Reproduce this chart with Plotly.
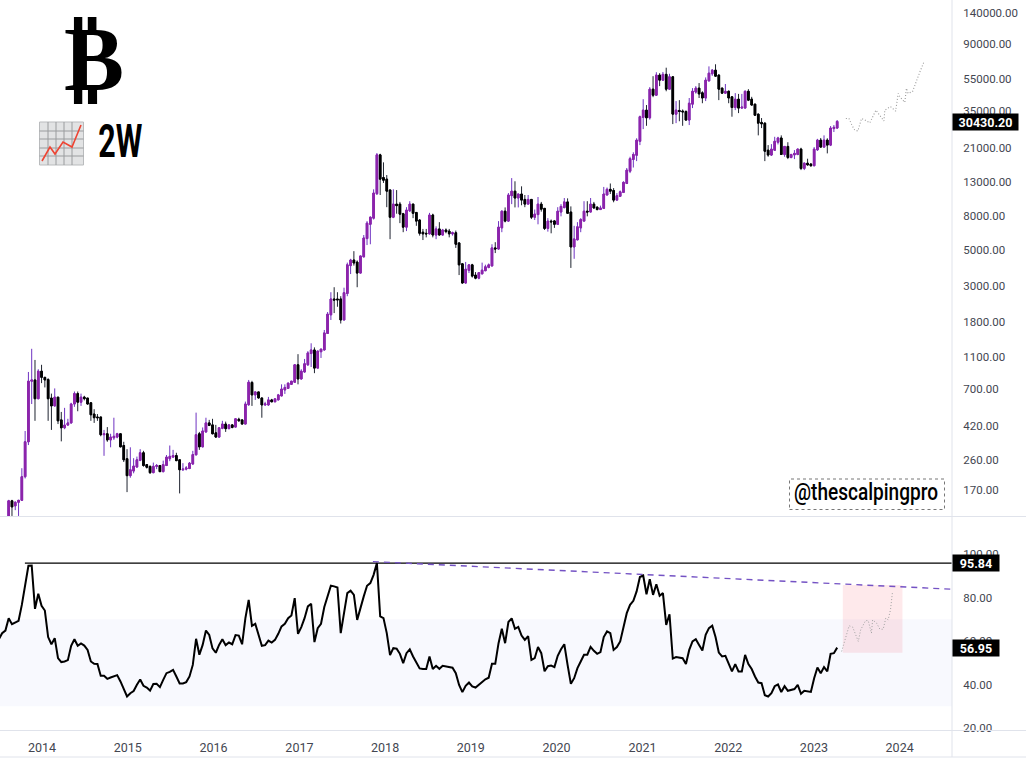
import pandas as pd
import plotly.graph_objects as go

candle_open = [
115,146,136,143,147,205,335,786,800,614,
905,830,805,620,555,628,456,408,424,437,
570,660,585,628,620,580,495,475,475,370,
375,344,354,358,375,318,264,208,222,235,
258,287,243,237,217,237,240,220,240,264,
270,276,260,226,228,230,245,279,375,312,
385,437,425,380,358,405,430,403,425,412,
460,456,430,565,772,648,676,621,563,563,
604,588,604,639,695,710,752,775,990,811,
895,990,1160,1220,945,1190,1220,1540,2000,2500,
2500,2500,1860,2700,4000,4325,4200,3600,4520,5850,
7150,7800,11000,19000,13800,13500,11600,7900,9500,9500,
8300,6870,8650,9500,8450,7590,6400,6300,6250,8150,
6150,6700,6150,6600,6500,6250,6350,5500,4100,3130,
3740,4040,3500,3350,3560,3720,3900,3980,5130,5050,
6800,8600,7480,10700,11400,10350,10950,10150,9500,10150,
7900,8200,9500,8950,6750,7480,7500,7150,8500,9050,
9800,8500,5200,5750,6800,7480,8600,8500,9500,9100,
8800,8950,10800,11700,11500,10050,10600,11200,12700,15100,
17800,18900,23000,32200,35663,32000,47900,44000,58400,54383,
59000,47900,57000,33700,35500,35200,35000,31000,38800,46000,
48600,45500,42300,53800,59500,62596,58400,48600,45300,46500,
43000,37000,41600,36700,36700,46500,41600,38800,33700,30000,
29700,20300,18950,20300,22700,24100,19100,21400,18300,19000,
19100,20600,15700,16900,16700,16300,20400,23386,21200,23386,
21800,27500,27700]

candle_high = [
148,148,145,148,231,390,895,1240,1060,930,
990,835,820,660,710,628,510,540,463,580,
680,680,660,640,620,585,530,495,475,396,
412,375,470,380,375,335,302,310,266,272,
302,295,245,240,250,245,240,257,278,318,
299,287,260,248,238,252,295,505,385,410,
470,456,463,425,410,450,445,430,430,465,
470,458,590,800,790,680,676,621,588,630,
613,615,657,752,752,770,790,1000,1150,930,
1075,1200,1340,1265,1210,1240,1616,2080,2750,2950,
2750,2600,2930,4170,4400,4900,4300,4600,6150,7480,
8000,11700,19500,19300,17100,14300,11600,11700,11576,9800,
8400,9100,9900,9550,8500,7700,6700,6700,8400,8300,
6950,7370,6700,6750,6700,6450,6550,5550,4150,4210,
4080,4100,3650,3650,4170,4050,4120,5400,5560,7480,
8700,9070,11100,13700,13100,11000,12200,10800,10800,10200,
8800,10500,9800,9000,7800,7650,7600,9100,9500,10350,
10300,9200,7000,7370,7800,9900,9900,10350,9800,9200,
9300,12100,12000,12700,11900,11100,11500,13100,15800,18500,
19700,24000,33000,41600,38300,49300,57500,60800,60000,61000,
64800,59500,57500,40500,41049,36000,35500,42300,48600,50000,
52200,46500,56500,66000,63500,68000,59000,49000,51500,47000,
43500,45300,44800,44800,47000,47900,43000,39000,34000,31900,
30000,21800,22100,24500,24500,25000,21500,22700,19300,20318,
20800,21000,17100,18000,16900,21200,23800,24100,25000,24000,
28500,28900,31000]

candle_low = [
110,118,128,118,146,200,320,570,450,610,
765,720,450,396,550,430,337,400,420,432,
548,515,555,600,565,450,437,450,362,275,
335,310,344,352,310,252,165,202,215,232,
255,236,230,213,215,228,220,218,238,255,
268,255,162,222,224,228,243,276,299,310,
380,418,372,355,355,400,385,400,405,410,
445,428,428,555,555,604,615,470,555,555,
585,585,600,635,657,705,745,770,752,805,
885,975,960,880,940,1090,1210,1530,1860,2050,
2240,1770,1850,2600,3550,4000,2950,3580,4500,5340,
5400,7650,10800,10800,12800,9100,5800,7800,8300,7270,
6400,6500,8500,7800,7000,6100,5730,5950,6200,5950,
5800,6100,6100,6300,5950,6100,5130,3500,3100,3100,
3600,3380,3300,3300,3540,3700,3850,3950,4770,5000,
6400,7350,7400,9500,9070,9070,9350,9100,9450,7700,
7600,7150,8550,6600,6450,6300,6800,7100,8000,8950,
8300,3870,4400,5700,6400,7450,8000,8450,8900,8700,
8750,8900,10750,10950,9750,10000,10500,11100,12600,14700,
15900,17400,21800,27300,28600,31200,42800,43500,50000,53900,
46500,47500,29300,29700,30500,28600,30800,28900,36700,45000,
42300,39300,40500,53500,57800,57000,41049,44800,45000,39300,
32500,35663,34200,36300,36500,40500,38000,33000,25000,27700,
17400,18500,18700,20100,22000,19000,18500,17900,18100,17900,
18900,15336,15336,16300,16100,16200,20100,21000,21000,19400,
21500,26200,27500]

candle_close = [
146,134,143,147,205,335,786,800,614,905,
830,800,614,555,628,450,408,424,437,570,
660,585,628,615,570,490,470,470,370,375,
344,358,362,375,312,260,208,226,238,260,
287,240,234,217,237,240,220,243,270,273,
276,257,226,228,232,248,280,370,312,390,
437,422,375,358,408,430,403,425,410,463,
450,430,570,775,648,676,621,563,571,604,
588,613,648,704,720,765,786,990,811,905,
1005,1170,1220,945,1200,1235,1550,2020,2500,2460,
2470,1860,2730,4040,4325,4150,3600,4580,5900,7270,
7900,11100,19000,13500,13300,11400,7900,9500,9300,8250,
6870,8737,9500,8350,7480,6300,6250,6250,8150,6150,
6700,6150,6600,6450,6250,6350,5400,4040,3130,3800,
4040,3450,3350,3620,3750,3930,4040,5130,5050,6870,
8600,7480,10800,11400,10350,10950,10050,9500,10150,7900,
8250,9500,8850,6750,7480,7400,7150,8600,9200,9800,
8350,5200,5820,6900,7650,8600,8500,9500,9000,8800,
9000,10950,11700,11400,10050,10700,11300,12900,15336,18000,
19100,23386,32500,35663,32000,47900,44000,58400,54383,59000,
47900,57000,33700,35663,35000,34800,31000,39300,46500,48600,
44800,42300,54383,60000,62596,57500,47900,45300,46500,42300,
37000,41600,36700,37200,46500,41049,38300,33200,29700,29400,
20000,18950,20600,23000,24100,19100,21400,18300,19100,19400,
20600,15700,16900,16500,16300,20600,23386,21200,23386,21800,
27700,28000,30430.2]

rsi_values = [
60.8,63.6,64.8,70.5,67.7,68.5,69.3,76.6,85.8,94.6,
94.7,74.8,81.7,76.2,74.0,61.8,58.5,61.3,52.1,50.3,
50.6,51.2,57.8,60.8,57.8,58.9,57.9,55.9,50.6,49.5,
49.4,44.0,44.0,42.6,43.2,43.7,44.3,41.4,37.9,34.5,
36.0,37.0,39.9,42.3,39.4,38.6,37.2,40.2,40.3,38.8,
42.1,45.2,45.8,46.7,43.7,40.5,40.5,41.1,43.7,49.0,
61.0,53.7,58.2,64.8,62.8,56.6,54.6,58.2,60.8,58.1,
59.3,58.5,62.7,62.5,58.5,70.5,78.9,67.0,67.9,62.8,
57.8,58.1,60.2,59.3,60.5,63.3,66.7,67.9,70.5,71.7,
79.7,63.3,66.4,70.5,75.9,77.1,59.5,65.9,67.9,75.6,
80.5,85.4,85.1,84.6,
63.6,72.0,82.0,83.1,81.2,69.7,75.6,80.5,85.4,86.6,90.4,95.84,
71.3,70.5,63.6,53.5,56.7,56.5,54.1,49.8,
54.4,56.2,52.9,49.8,47.4,47.1,47.1,52.9,47.1,48.6,
47.2,48.6,48.3,48.0,47.7,45.2,39.8,36.5,39.4,40.9,
39.1,38.6,39.8,40.9,42.4,43.1,49.5,49.5,59.0,65.6,
59.0,68.7,70.4,65.6,66.5,62.5,60.5,62.2,51.3,52.1,
57.2,54.4,46.1,48.4,48.7,48.0,53.2,56.2,58.5,49.0,
40.3,42.9,47.5,50.6,53.7,53.7,57.3,55.5,54.1,54.9,
61.8,64.4,63.6,55.9,57.2,59.8,65.9,72.8,76.6,78.5,
82.8,89.4,90.1,81.5,88.4,81.2,86.1,80.8,82.0,67.4,
72.3,51.9,52.6,52.4,
52.1,49.4,55.9,59.8,60.8,58.2,55.6,62.8,65.9,67.0,
61.8,54.7,52.9,53.2,49.5,46.0,49.4,46.0,46.0,53.6,
49.4,47.1,43.7,40.9,40.6,35.1,34.5,36.0,39.2,40.0,
36.5,39.2,37.1,37.5,37.9,39.8,35.7,37.1,36.8,36.6,
42.9,47.8,45.2,48.0,46.0,54.1,54.4,56.95]

forecast_price_dates = ["2023-05-17","2023-05-30","2023-06-13","2023-06-24","2023-07-07","2023-07-23",
    "2023-08-06","2023-08-27","2023-09-22","2023-10-16","2023-10-26","2023-10-30","2023-11-23",
    "2023-12-15","2023-12-26","2024-01-02","2024-01-23","2024-01-30","2024-02-06","2024-02-25",
    "2024-03-06","2024-03-27","2024-04-14"]
forecast_price = [31700,31700,28600,26900,26600,31700,31000,29800,35663,31700,30600,35663,37500,
    35200,45100,43000,39800,48500,45100,46300,51000,61000,70500]

forecast_rsi_dates = ["2023-04-29","2023-05-13","2023-05-31","2023-06-15","2023-06-29","2023-07-09",
    "2023-07-19","2023-08-09","2023-08-20","2023-09-03","2023-09-08","2023-09-25","2023-10-09",
    "2023-10-23","2023-11-03","2023-11-13","2023-11-23","2023-12-01"]
forecast_rsi = [55.2,60.5,67.0,66.4,62.8,59.8,65.1,69.4,69.4,63.6,69.7,68.2,65.4,65.4,70.5,69.7,74.3,82.0]

price_ticks = [140000,90000,55000,35000,21000,13000,8000,5000,3000,1800,1100,700,420,260,170]
rsi_ticks = [100,80,60,40,20]

last_price = 30430.20
last_rsi = 56.95
peak_rsi = 95.84
trend_dates = ["2017-11-10","2024-08-11"]
trend_rsi = [96.5,83.8]
peak_dates = ["2013-10-20","2024-08-11"]

W, H = 1026, 759
PLOT_W, PLOT_H = 952, 730
px = lambda v: v / PLOT_W
py = lambda v: 1 - v / PLOT_H

candle_dates = pd.date_range(end="2023-04-10", periods=len(candle_close), freq="14D")
rsi_dates = pd.date_range(end="2023-04-10", periods=len(rsi_values), freq="14D")
x_range = ["2013-07-06", "2024-08-11"]
body_top = [max(a, b) for a, b in zip(candle_open, candle_close)]
body_bottom = [min(a, b) for a, b in zip(candle_open, candle_close)]

fig = go.Figure()
# wicks in their own colour, bodies drawn over them
fig.add_trace(go.Candlestick(
    x=candle_dates, open=candle_open, high=candle_high, low=candle_low, close=candle_close,
    xaxis="x", yaxis="y", whiskerwidth=0,
    increasing=dict(line=dict(color="#6f33c2", width=1), fillcolor="#8e24aa"),
    decreasing=dict(line=dict(color="#1f2430", width=1), fillcolor="#000000"),
))
fig.add_trace(go.Candlestick(
    x=candle_dates, open=candle_open, high=body_top, low=body_bottom, close=candle_close,
    xaxis="x", yaxis="y", whiskerwidth=0,
    increasing=dict(line=dict(color="#8e24aa", width=1), fillcolor="#8e24aa"),
    decreasing=dict(line=dict(color="#000000", width=1), fillcolor="#000000"),
))
fig.add_trace(go.Scatter(x=forecast_price_dates, y=forecast_price, mode="lines", xaxis="x", yaxis="y",
                         line=dict(color="#9a9a9a", width=1.1, dash="1px,2px")))
fig.add_trace(go.Scatter(x=peak_dates, y=[peak_rsi, peak_rsi], mode="lines", xaxis="x2", yaxis="y2",
                         line=dict(color="#000000", width=1.3)))
fig.add_trace(go.Scatter(x=trend_dates, y=trend_rsi, mode="lines", xaxis="x2", yaxis="y2",
                         line=dict(color="#7452c4", width=1.4, dash="6px,5px")))
fig.add_trace(go.Scatter(x=rsi_dates, y=rsi_values, mode="lines", xaxis="x2", yaxis="y2",
                         line=dict(color="#000000", width=2)))
fig.add_trace(go.Scatter(x=forecast_rsi_dates, y=forecast_rsi, mode="lines", xaxis="x2", yaxis="y2",
                         line=dict(color="#a2a2a2", width=1, dash="1px,2px")))

TICK_FONT = dict(family="Roboto", size=11.5, color="#434651")
AXIS_LINE = "#e0e3eb"
shapes = [
    # RSI band and forecast zone
    dict(type="rect", xref="x2 domain", yref="y2", x0=0, x1=1, y0=30, y1=70,
         fillcolor="#f8f9fe", line=dict(width=0), layer="below"),
    dict(type="rect", xref="x2", yref="y2", x0="2023-05-04", x1="2024-01-13", y0=54.6, y1=85.7,
         fillcolor="rgba(242,54,69,0.11)", line=dict(width=0), layer="below"),
    # pane separators and axis border
    dict(type="line", xref="paper", yref="paper", x0=0, x1=px(W), y0=py(516.5), y1=py(516.5),
         line=dict(color=AXIS_LINE, width=1)),
    dict(type="line", xref="paper", yref="paper", x0=0, x1=px(W), y0=py(730.5), y1=py(730.5),
         line=dict(color=AXIS_LINE, width=1)),
    dict(type="line", xref="paper", yref="paper", x0=0, x1=px(W), y0=py(757), y1=py(757),
         line=dict(color=AXIS_LINE, width=1)),
    dict(type="line", xref="paper", yref="paper", x0=1, x1=1, y0=py(0), y1=py(757),
         line=dict(color=AXIS_LINE, width=1)),
    # watermark box
    dict(type="rect", xref="paper", yref="paper", x0=px(789.5), x1=px(944.5), y0=py(509.5), y1=py(479),
         line=dict(color="#777777", width=1, dash="dot")),
    # chart emoji panel
    dict(type="rect", xref="paper", yref="paper", x0=px(39.5), x1=px(83.5), y0=py(165), y1=py(122),
         fillcolor="#e2e3e4", line=dict(color="#b9bbbd", width=1)),
]
for gx in [48, 56, 64, 72]:
    shapes.append(dict(type="line", xref="paper", yref="paper", x0=px(gx), x1=px(gx), y0=py(165), y1=py(122),
                       line=dict(color="#9a9c9e", width=1)))
for gy in [131, 139, 148, 156]:
    shapes.append(dict(type="line", xref="paper", yref="paper", x0=px(39.5), x1=px(83.5), y0=py(gy), y1=py(gy),
                       line=dict(color="#9a9c9e", width=1)))
icon = [(42, 161), (50, 147), (55, 154), (63, 142), (72, 147), (81, 125)]
icon_path = "M " + " L ".join(f"{px(a):.5f},{py(b):.5f}" for a, b in icon)
shapes.append(dict(type="path", xref="paper", yref="paper", path=icon_path,
                   line=dict(color="#ee4433", width=1.6)))

def tag(text, y, yref, width, yshift=0):
    return dict(x=1, xref="paper", y=y, yref=yref, text=f"<b>{text}</b>", showarrow=False,
                xanchor="left", yanchor="middle", align="center", width=width, height=16,
                bgcolor="#000000", font=dict(family="Roboto", size=12.5, color="#ffffff"),
                borderpad=0, yshift=yshift)

annotations = [
    tag("30430.20", 4.4833, "y", 65, yshift=-1),
    tag("95.84", peak_rsi, "y2", 46),
    tag("56.95", last_rsi, "y2", 46),
    dict(x=px(94), xref="paper", y=py(58), yref="paper", text="<b>₿</b>", showarrow=False,
         font=dict(family="DejaVu Sans", size=90, color="#000000"), xanchor="center", yanchor="middle"),
    dict(x=px(120), xref="paper", y=py(141.5), yref="paper", text="<b>2W</b>", showarrow=False,
         font=dict(family="Roboto", size=46, color="#000000"), xanchor="center", yanchor="middle"),
    dict(x=px(866), xref="paper", y=py(493), yref="paper", text="@thescalpingpro", showarrow=False,
         font=dict(family="Roboto", size=23, color="#000000", weight=500), xanchor="center", yanchor="middle"),
]

fig.update_layout(
    width=W, height=H, autosize=False,
    margin=dict(l=0, r=W - PLOT_W, t=0, b=H - PLOT_H, pad=0),
    paper_bgcolor="#ffffff", plot_bgcolor="#ffffff", showlegend=False,
    xaxis=dict(domain=[0, 1], anchor="y", range=x_range, type="date", showgrid=False, zeroline=False,
               showticklabels=False, rangeslider=dict(visible=False), ticks=""),
    xaxis2=dict(domain=[0, 1], anchor="y2", range=x_range, type="date", showgrid=False, zeroline=False,
                dtick="M12", tick0="2014-01-01", tickformat="%Y", ticks="outside", ticklen=6,
                tickcolor="rgba(0,0,0,0)", tickfont=dict(family="Roboto", size=12.5, color="#434651")),
    yaxis=dict(domain=[py(516), 1], anchor="x", type="log", side="right",
               range=[2.0715, 5.2253], showgrid=False, zeroline=False,
               tickvals=price_ticks, ticktext=[f"{v}.00" for v in price_ticks],
               tickfont=TICK_FONT, ticks="outside", ticklen=8, tickcolor="rgba(0,0,0,0)"),
    yaxis2=dict(domain=[0, py(517)], anchor="x2", side="right", range=[19.08, 117.0],
                showgrid=False, zeroline=False,
                tickvals=rsi_ticks, ticktext=[f"{v}.00" for v in rsi_ticks],
                tickfont=TICK_FONT, ticks="outside", ticklen=8, tickcolor="rgba(0,0,0,0)"),
    shapes=shapes, annotations=annotations,
)

# page without body margin; condensed lettering for the two display texts
post = """
document.body.style.margin = '0';
document.querySelectorAll('.annotation-text').forEach(function (t) {
  var s = t.textContent;
  var len = s === '2W' ? 44 : (s === '@thescalpingpro' ? 144 : 0);
  if (len) { t.setAttribute('textLength', len); t.setAttribute('lengthAdjust', 'spacingAndGlyphs'); }
});
"""
fig.write_html("out.html", post_script=post, config=dict(displayModeBar=False))
